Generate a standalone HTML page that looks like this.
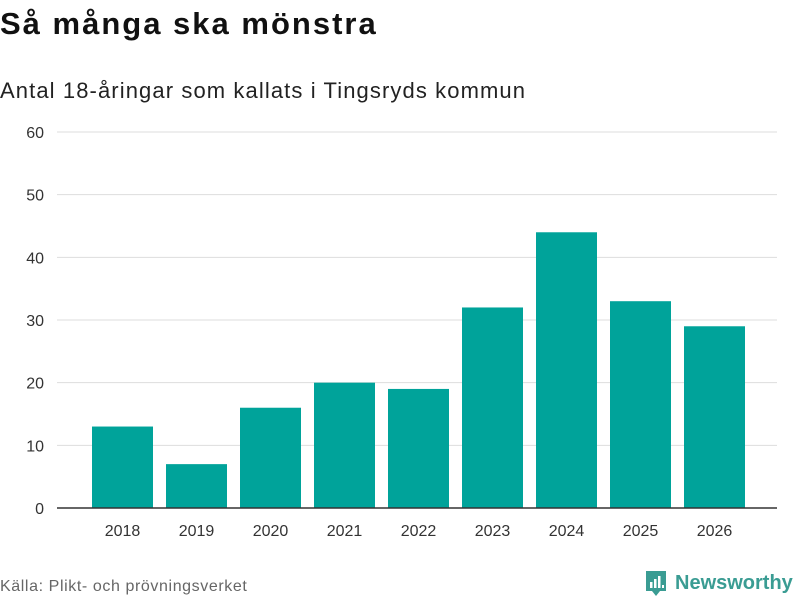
<!DOCTYPE html>
<html><head><meta charset="utf-8">
<style>
body{margin:0;width:800px;height:600px;background:#fff;font-family:"Liberation Sans",sans-serif;overflow:hidden;position:relative}
.t{position:absolute;left:0;top:6px;font-size:31px;font-weight:bold;color:#111;letter-spacing:2px}
.s{position:absolute;left:0;top:78px;font-size:22px;color:#222;letter-spacing:1.1px}
.src{position:absolute;left:0;top:578px;font-size:16px;color:#666;letter-spacing:0.6px}
.logo{position:absolute;left:644px;top:569px;display:flex;align-items:center;gap:7px;color:#3a9c93;font-size:20px;font-weight:bold}
</style></head><body>
<div class="t">Så många ska mönstra</div>
<div class="s">Antal 18-åringar som kallats i Tingsryds kommun</div>
<svg id="c" width="800" height="560" style="position:absolute;left:0;top:0"></svg>
<div class="src">Källa: Plikt- och prövningsverket</div>
<div class="logo">
<svg width="24" height="28" viewBox="0 0 24 28"><path d="M2 2h20v20h-6l-4 5-4-5H2z" fill="#3a9c93"/><rect x="6" y="13" width="2.5" height="6" fill="#fff"/><rect x="10" y="10" width="2.5" height="9" fill="#fff"/><rect x="14" y="7" width="2.5" height="12" fill="#fff"/><rect x="18" y="16" width="2" height="3" fill="#fff"/></svg>
<span>Newsworthy</span></div>
<script>
const categories=["2018","2019","2020","2021","2022","2023","2024","2025","2026"];
const values=[13,7,16,20,19,32,44,33,29];
const yTicks=[0,10,20,30,40,50,60];
const NS="http://www.w3.org/2000/svg",svg=document.getElementById('c');
const y0=508,y1=132,yMax=60,xL=57,xR=777,bandStart=85.5,band=74,bw=61;
const y=v=>y0-(v/yMax)*(y0-y1);
const x=i=>bandStart+i*band+(band-bw)/2;
function mk(t,a,txt){const e=document.createElementNS(NS,t);for(const k in a)e.setAttribute(k,a[k]);if(txt!==undefined)e.textContent=txt;svg.appendChild(e);return e;}
yTicks.forEach(v=>{
 if(v>0){const g=mk('line',{x1:xL,x2:xR,y1:y(v),y2:y(v),stroke:'#ddd','stroke-width':1});
 
 }
 const t=mk('text',{x:44,y:y(v)+6,'text-anchor':'end','font-size':16,fill:'#333','font-family':'Liberation Sans, sans-serif'},v);
 
 
});
values.forEach((v,i)=>{
 const r=mk('rect',{x:x(i),y:y(v),width:bw,height:y0-y(v),fill:'#00a39a'});
 
 
 const t=mk('text',{x:x(i)+bw/2,y:536,'text-anchor':'middle','font-size':16,fill:'#333','font-family':'Liberation Sans, sans-serif'},categories[i]);
 
 
});
const ax=mk('line',{x1:xL,x2:xR,y1:y0,y2:y0,stroke:'#333','stroke-width':1.5});


</script>
</body></html>
